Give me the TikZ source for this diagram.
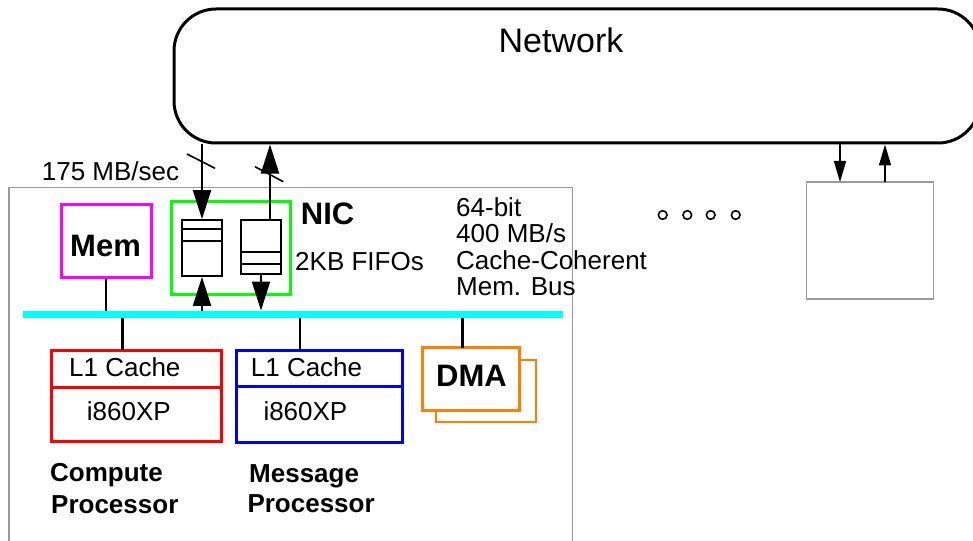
\documentclass[tikz,border=0pt]{standalone}
\usepackage{fontspec}
\setmainfont{Liberation Sans}
\usetikzlibrary{arrows.meta}
\definecolor{grayline}{HTML}{9A9A9A}
\definecolor{dmaorange}{HTML}{FF8000}
\definecolor{buscyan}{HTML}{00FFFF}
\definecolor{memmag}{HTML}{FF00FF}
\definecolor{nicgreen}{HTML}{00FF00}
\definecolor{cpured}{HTML}{FF0000}
\definecolor{cpublue}{HTML}{0000FF}
\begin{document}
\begin{tikzpicture}[x=1pt,y=-1pt,
  txt/.style={font=\fontsize{26}{26}\selectfont, inner sep=0pt, anchor=base west},
  btxt/.style={font=\fontsize{26}{26}\selectfont\bfseries, inner sep=0pt, anchor=base west},
  bigb/.style={font=\fontsize{31}{31}\selectfont\bfseries, inner sep=0pt, anchor=base west},
  fifo/.style={draw=black, line width=1.8pt, inner sep=0pt, minimum width=40pt},
  arr/.style={line width=2pt, -{Triangle[length=29pt,width=18pt]}},
  sarr/.style={line width=1.6pt, -{Triangle[length=21pt,width=12pt]}},
  wire/.style={line width=2.5pt},
]
\useasboundingbox (0,0) rectangle (973,540);

% outer gray box
\draw[grayline, line width=1.5pt] (9,545) -- (9,187.5) -- (572.5,187.5) -- (572.5,545);

% network
\node[draw, line width=3pt, rounded corners=42pt, inner sep=0pt,
      minimum width=806pt, minimum height=134pt] (net) at (577,76) {};
\node[font=\fontsize{34}{34}\selectfont, inner sep=0pt, anchor=base] (nettxt) at (561,53) {Network};

% memory
\node[draw=memmag, line width=3pt, inner sep=0pt, minimum width=90pt, minimum height=73pt] (mem) at (106,240.5) {};
\node[bigb] (memtxt) at (70,256) {Mem};

% NIC
\node[draw=nicgreen, line width=3pt, inner sep=0pt, minimum width=119pt, minimum height=93pt] (nic) at (230.5,247.5) {};
\node[fifo, minimum height=56pt] (fifo1) at (202,248) {};
\draw[line width=1.8pt] (182,229.3) -- (222,229.3) (182,240.7) -- (222,240.7);
\node[fifo, minimum height=54pt] (fifo2) at (261,247) {};
\draw[line width=1.8pt] (241,252.3) -- (281,252.3) (241,264) -- (281,264);
\node[bigb] (nictxt) at (300.7,224) {NIC};
\node[txt] (fifotxt) at (295,270) {2KB FIFOs};

% bus
\node[fill=buscyan, inner sep=0pt, minimum width=540pt, minimum height=7.5pt] (bus) at (293,314.5) {};
\node[txt] (bus1) at (456,216) {64-bit};
\node[txt] (bus2) at (456,242.7) {400 MB/s};
\node[txt] (bus3) at (456,269) {Cache-Coherent};
\node[txt] (bus4) at (456,295) {Mem. Bus};

% network links of NIC
\coordinate (f1top) at (202,216);
\coordinate (f2top) at (270,220);
\draw[arr] (f1top |- net.south) -- (fifo1.north);
\draw[arr] (f2top) -- (f2top |- net.south);
\draw[line width=1.6pt] (187,154) -- (215,168.3);
\draw[line width=1.6pt] (255,166.7) -- (283.3,181.7);
\node[txt] (rate) at (41.7,180.7) {175 MB/sec};

% NIC to bus
\draw[arr] (fifo1.south |- bus.north) -- (fifo1.south);
\draw[arr] (fifo2.south) -- (fifo2.south |- bus.north);
\draw[wire] (mem.south) -- (mem.south |- bus.north);

% compute processor
\node[draw=cpured, line width=3pt, inner sep=0pt, minimum width=170pt, minimum height=37pt] (cl1) at (136,368.5) {};
\node[draw=cpured, line width=3pt, inner sep=0pt, minimum width=170pt, minimum height=54pt] (ccpu) at (136,414) {};
\node[txt] (cl1txt) at (69,376.7) {L1 Cache};
\node[txt] (ccputxt) at (86.7,420) {i860XP};
\coordinate (cconn) at (122.7,350);
\draw[wire] (cconn |- bus.south) -- (cconn);
\node[btxt] (cname1) at (50,481.7) {Compute};
\node[btxt] (cname2) at (51,513) {Processor};

% message processor
\node[draw=cpublue, line width=3pt, inner sep=0pt, minimum width=166pt, minimum height=36pt] (ml1) at (319.3,368) {};
\node[draw=cpublue, line width=3pt, inner sep=0pt, minimum width=166pt, minimum height=56pt] (mcpu) at (319.3,414) {};
\node[txt] (ml1txt) at (250.7,376.7) {L1 Cache};
\node[txt] (mcputxt) at (263.3,420) {i860XP};
\coordinate (mconn) at (300,350);
\draw[wire] (mconn |- bus.south) -- (mconn);
\node[btxt] (mname1) at (249,482.7) {Message};
\node[btxt] (mname2) at (247.3,512.3) {Processor};

% DMA
\node[draw=dmaorange, line width=2pt, fill=white, inner sep=0pt, minimum width=100pt, minimum height=62pt] (dmaback) at (486,391) {};
\node[draw=dmaorange, line width=3pt, fill=white, inner sep=0pt, minimum width=97pt, minimum height=63pt] (dma) at (470.7,379.3) {};
\node[bigb] (dmatxt) at (436,386.7) {DMA};
\coordinate (dconn) at (462.3,348);
\draw[wire] (dconn |- bus.south) -- (dconn);

% dots
\foreach \i/\xx in {1/662.7,2/687.3,3/710.7,4/735.7}
  \draw[line width=1.6pt] (\xx,215) circle (4.3pt) coordinate (dot\i);

% other node
\node[draw=grayline, line width=1.5pt, inner sep=0pt, minimum width=126.6pt, minimum height=117.3pt] (other) at (870,240.4) {};
\coordinate (odown) at (840,182);
\coordinate (oup) at (885,182);
\draw[sarr] (odown |- net.south) -- (odown);
\draw[sarr] (oup) -- (oup |- net.south);
\end{tikzpicture}
\end{document}
